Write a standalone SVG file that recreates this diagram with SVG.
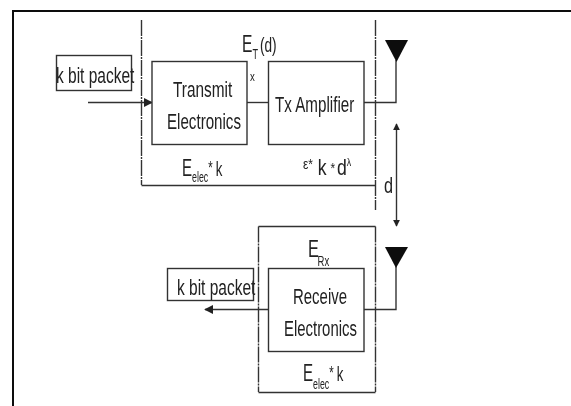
<svg xmlns="http://www.w3.org/2000/svg" width="571" height="406" viewBox="0 0 571 406">
<defs>
<marker id="ah" viewBox="0 0 10 10" refX="9" refY="5" markerWidth="7" markerHeight="7" markerUnits="userSpaceOnUse" orient="auto-start-reverse"><path d="M0 0L10 5L0 10z" fill="#222"/></marker>
<marker id="ahb" viewBox="0 0 10 10" refX="9" refY="5" markerWidth="9" markerHeight="9" markerUnits="userSpaceOnUse" orient="auto"><path d="M0 0L10 5L0 10z" fill="#222"/></marker>
<filter id="soft" x="0" y="0" width="100%" height="100%"><feGaussianBlur stdDeviation="0.35"/></filter>
</defs>
<style>
text{font-family:"Liberation Sans",Arial,sans-serif;fill:#222}
.b{fill:#fff;stroke:#333;stroke-width:1.4}
.l{fill:none;stroke:#333;stroke-width:1.4}
.d{fill:none;stroke:#333;stroke-width:1.4;stroke-dasharray:16 1 2 1}
.t{font-size:22px}
.c{font-size:24px}
.s{font-size:14px}
</style>
<rect width="571" height="406" fill="#fff"/>
<g filter="url(#soft)">
<path d="M12.500 406V10.500H571" fill="none" stroke="#111" stroke-width="3"/>
<g id="connectors">
<path class="l" d="M88 102.500H152" marker-end="url(#ahb)"/>
<path class="l" d="M247 102.500H268.500"/>
<path class="l" d="M364 102.500H396V60"/>
<path class="d" d="M141.500 20V185"/>
<path class="l" d="M141.500 185.500H375"/>
<path class="d" d="M375.500 20V210"/>
<path class="l" d="M396.500 124V226" marker-start="url(#ah)" marker-end="url(#ah)"/>
<path class="l" d="M396 265V309.500H364"/>
<path class="l" d="M268.500 309.500H205" marker-end="url(#ahb)"/>
<path class="l" d="M258.500 226.500H375.500"/>
<path class="d" d="M258.500 226.500V392"/>
<path class="d" d="M375.500 226.500V392"/>
<path class="l" d="M258.500 392.500H375.500"/>
</g>
<g id="packet-in"><rect class="b" x="56.500" y="55.500" width="75" height="35"/><text transform="translate(56 83) scale(.705 1)" class="t">k bit packet</text></g>
<g id="transmit"><rect class="b" x="152" y="61.500" width="95" height="83"/><text transform="translate(173 97) scale(.7 1)" class="t">Transmit</text><text transform="translate(167 129) scale(.688 1)" class="t">Electronics</text></g>
<g id="amplifier"><rect class="b" x="268.500" y="61.500" width="95.500" height="83"/><text transform="translate(275 112) scale(.69 1)" class="t">Tx Amplifier</text></g>
<g id="antenna-tx"><path d="M385 40H408L396.500 62z" fill="#111"/></g>
<g id="packet-out"><rect class="b" x="167.500" y="268.500" width="86" height="32"/><text transform="translate(177 295) scale(.705 1)" class="t">k bit packet</text></g>
<g id="receive"><rect class="b" x="268.500" y="268.500" width="95.500" height="83"/><text transform="translate(293 304) scale(.68 1)" class="t">Receive</text><text transform="translate(284 336) scale(.678 1)" class="t">Electronics</text></g>
<g id="antenna-rx"><path d="M385 247H408L396 268z" fill="#111"/></g>
<g id="labels">
<text transform="translate(242 52) scale(.65 1)" class="c">E<tspan class="s" dy="7">T</tspan><tspan dy="-7" dx="3" font-size="21">(d)</tspan></text>
<text transform="translate(250 81) scale(.8 1)" font-size="12">x</text>
<text transform="translate(182 176) scale(.63 1)" class="c">E<tspan class="s" dy="6">elec</tspan><tspan dy="-8" font-size="18">*</tspan><tspan dy="2" dx="5" font-size="21">k</tspan></text>
<text transform="translate(303 175) scale(.8 1)" class="c"><tspan font-size="15" dy="-6">ε*</tspan><tspan dy="6" dx="6" font-size="22">k</tspan><tspan font-size="15" dx="5" dy="-2">*</tspan><tspan dx="2" dy="2" font-size="22">d</tspan><tspan font-size="11" dy="-9">λ</tspan></text>
<text transform="translate(384 193) scale(.74 1)" font-size="22">d</text>
<text transform="translate(308 257) scale(.68 1)" class="c">E<tspan class="s" dy="9" dx="-2">Rx</tspan></text>
<text transform="translate(303 381) scale(.63 1)" class="c">E<tspan class="s" dy="8">elec</tspan><tspan dy="-10" font-size="18">*</tspan><tspan dy="2" dx="5" font-size="21">k</tspan></text>
</g>
</g>
</svg>
